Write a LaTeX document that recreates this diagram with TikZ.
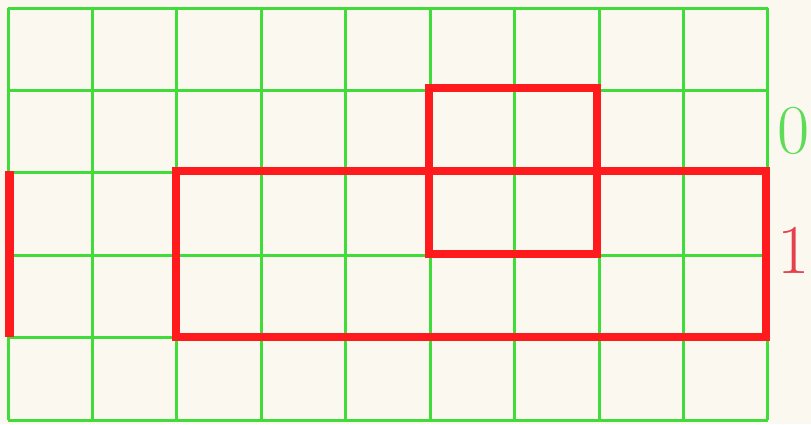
\documentclass[tikz,border=0pt]{standalone}
\begin{document}
\begin{tikzpicture}[x=1pt,y=-1pt,
  gridline/.style={draw=gridgreen,line width=3pt},
  redbox/.style={draw=boxred,line width=8.5pt,line join=miter},
  lbl/.style={font=\fontsize{70}{70}\selectfont,inner sep=0pt,anchor=center}]
\definecolor{bg}{HTML}{FBF8F0}
\definecolor{gridgreen}{HTML}{3FDC3A}
\definecolor{boxred}{HTML}{FF1A1E}
\definecolor{lblgreen}{HTML}{5EDC58}
\definecolor{lblred}{HTML}{E4404E}
\useasboundingbox (0,0) rectangle (811,424);
\fill[bg] (0,0) rectangle (811,424);
% grid
\foreach \i in {0,...,9} {
  \draw[gridline] ({8+84.44*\i},8) -- ({8+84.44*\i},420);
}
\foreach \j in {0,...,5} {
  \draw[gridline] (8,{8+82.4*\j}) -- (768,{8+82.4*\j});
}
% red shapes
\draw[redbox] (176,171) rectangle (766,337);
\draw[redbox] (429,88) rectangle (597,254);
\draw[boxred,line width=9pt] (9.5,171) -- (9.5,337);
% labels
\node[lbl,text=lblgreen] (l0) at (794,131) {0};
\node[lbl,text=lblred] (l1) at (794,250) {1};
\end{tikzpicture}
\end{document}
